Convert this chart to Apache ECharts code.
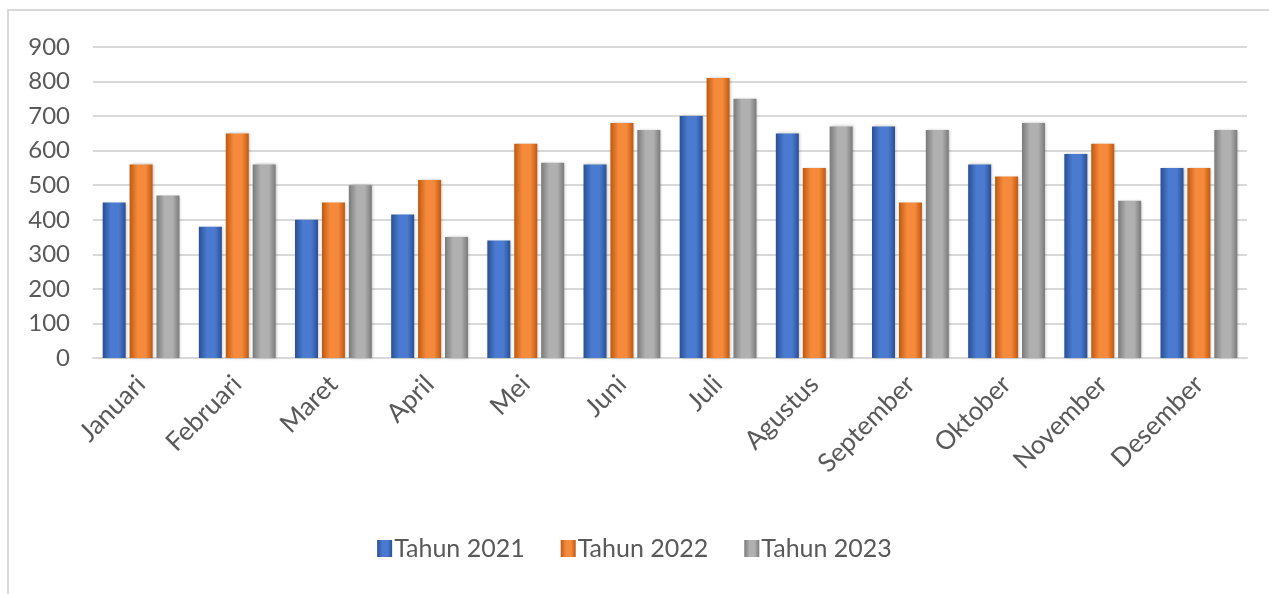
<!DOCTYPE html>
<html>
<head>
<meta charset="utf-8">
<script src="https://cdn.jsdelivr.net/npm/echarts@6/dist/echarts.min.js"></script>
<style>
html, body { margin: 0; padding: 0; background: #fff; }
#frame { position: absolute; left: 7px; top: 9px; width: 1262px; height: 585px; border-left: 2px solid #d9d9d9; border-top: 2px solid #d9d9d9; }
#main { position: absolute; left: 0; top: 0; width: 1269px; height: 594px; }
</style>
</head>
<body>
<div id="frame"></div>
<div id="main"></div>
<script>
const months = ['Januari', 'Februari', 'Maret', 'April', 'Mei', 'Juni', 'Juli', 'Agustus', 'September', 'Oktober', 'November', 'Desember']
const tahun2021 = [450, 380, 400, 415, 340, 560, 700, 650, 670, 560, 590, 550]
const tahun2022 = [560, 650, 450, 515, 620, 680, 810, 550, 450, 525, 620, 550]
const tahun2023 = [470, 560, 500, 350, 565, 660, 750, 670, 660, 680, 455, 660]

// gradient kiri-kanan biar mirip batang 3D di Excel
function bevel (dark, light) {
  return new echarts.graphic.LinearGradient(0, 0, 1, 0, [
    { offset: 0, color: dark },
    { offset: 0.35, color: light },
    { offset: 0.7, color: light },
    { offset: 1, color: dark }
  ])
}

function makeSeries (name, data, dark, light) {
  return {
    name: name,
    type: 'bar',
    data: data,
    barWidth: 23,
    barGap: '17%',
    itemStyle: {
      color: bevel(dark, light),
      shadowColor: 'rgba(0, 0, 0, 0.25)',
      shadowBlur: 3,
      shadowOffsetX: 1
    }
  }
}

const chart = echarts.init(document.getElementById('main'))
chart.setOption({
  animation: false,
  textStyle: { fontFamily: 'Lato' },
  grid: { left: 93, right: 22, top: 47, bottom: 236 },
  legend: {
    bottom: 28,
    left: 'center',
    itemWidth: 15,
    itemHeight: 17,
    itemGap: 36,
    icon: 'rect',
    textStyle: { fontSize: 25, color: '#595959', fontFamily: 'Lato', padding: [0, 0, 0, -3] },
    data: ['Tahun 2021', 'Tahun 2022', 'Tahun 2023']
  },
  xAxis: {
    type: 'category',
    data: months,
    axisLine: { lineStyle: { color: '#d9d9d9', width: 2 } },
    axisTick: { show: false },
    axisLabel: { rotate: 45, fontSize: 26, color: '#595959', margin: 22, interval: 0 }
  },
  yAxis: {
    type: 'value',
    min: 0,
    max: 900,
    interval: 100,
    axisLine: { show: false },
    axisTick: { show: false },
    axisLabel: { fontSize: 24, color: '#595959', margin: 23 },
    splitLine: { lineStyle: { color: '#d9d9d9', width: 2 } }
  },
  series: [
    makeSeries('Tahun 2021', tahun2021, '#2a4f94', '#4a7bd0'),
    makeSeries('Tahun 2022', tahun2022, '#c0580f', '#f58a3c'),
    makeSeries('Tahun 2023', tahun2023, '#7a7a7a', '#b0b0b0')
  ]
})
</script>
</body>
</html>
